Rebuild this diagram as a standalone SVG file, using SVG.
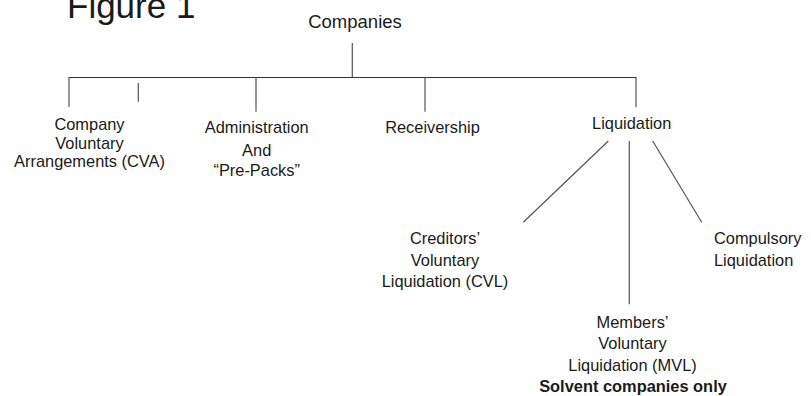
<svg xmlns="http://www.w3.org/2000/svg" width="811" height="396" viewBox="0 0 811 396">
  <style>
    text { font-family: "Liberation Sans", Arial, sans-serif; fill: #1a1a1a; }
    .lbl { font-size: 16.4px; text-anchor: middle; }
    .left { text-anchor: start; }
    .bold { font-weight: bold; }
    .title { font-size: 35px; }
    .root { font-size: 18.5px; text-anchor: middle; }
    .conn line { stroke: #555; stroke-width: 1.2; fill: none; }
    .conn .bar { stroke: #333; }
  </style>
  <rect width="811" height="396" fill="#ffffff"/>

  <!-- heading, partly above the top edge -->
  <text class="title" x="67" y="17.5">Figure 1</text>

  <!-- connectors -->
  <g id="connectors" class="conn">
    <line x1="352.3" y1="43" x2="352.3" y2="77.5"/>
    <line class="bar" x1="68.5" y1="77.5" x2="636.5" y2="77.5"/>
    <line x1="69" y1="77.5" x2="69" y2="107"/>
    <line x1="138.3" y1="83" x2="138.3" y2="101.7"/>
    <line x1="256" y1="77.5" x2="256" y2="111.7"/>
    <line x1="425" y1="77.5" x2="425" y2="111.7"/>
    <line x1="636" y1="77.5" x2="636" y2="107.3"/>
    <line x1="608.3" y1="141" x2="523.3" y2="222.3"/>
    <line x1="629.3" y1="141" x2="629.3" y2="304.3"/>
    <line x1="652.7" y1="141" x2="701.7" y2="222.3"/>
  </g>

  <g id="companies">
    <text class="root" x="355" y="28">Companies</text>
  </g>

  <g id="cva">
    <text class="lbl" x="89.5" y="130">Company</text>
    <text class="lbl" x="89.5" y="148.5">Voluntary</text>
    <text class="lbl" x="89.5" y="167">Arrangements (CVA)</text>
  </g>

  <g id="administration">
    <text class="lbl" x="256.7" y="133.3">Administration</text>
    <text class="lbl" x="256.7" y="155.7">And</text>
    <text class="lbl" x="256.7" y="175.7">“Pre-Packs”</text>
  </g>

  <g id="receivership">
    <text class="lbl" x="432.5" y="132.7">Receivership</text>
  </g>

  <g id="liquidation">
    <text class="lbl" x="631.7" y="129.3">Liquidation</text>
  </g>

  <g id="cvl">
    <text class="lbl" x="445" y="244.3">Creditors’</text>
    <text class="lbl" x="445" y="266">Voluntary</text>
    <text class="lbl" x="445" y="287.3">Liquidation (CVL)</text>
  </g>

  <g id="compulsory">
    <text class="lbl left" x="714" y="244.3">Compulsory</text>
    <text class="lbl left" x="714" y="266">Liquidation</text>
  </g>

  <g id="mvl">
    <text class="lbl" x="632.5" y="328.3">Members’</text>
    <text class="lbl" x="632.5" y="349">Voluntary</text>
    <text class="lbl" x="632.5" y="370.7">Liquidation (MVL)</text>
    <text class="lbl bold" x="633" y="392.3">Solvent companies only</text>
  </g>
</svg>
